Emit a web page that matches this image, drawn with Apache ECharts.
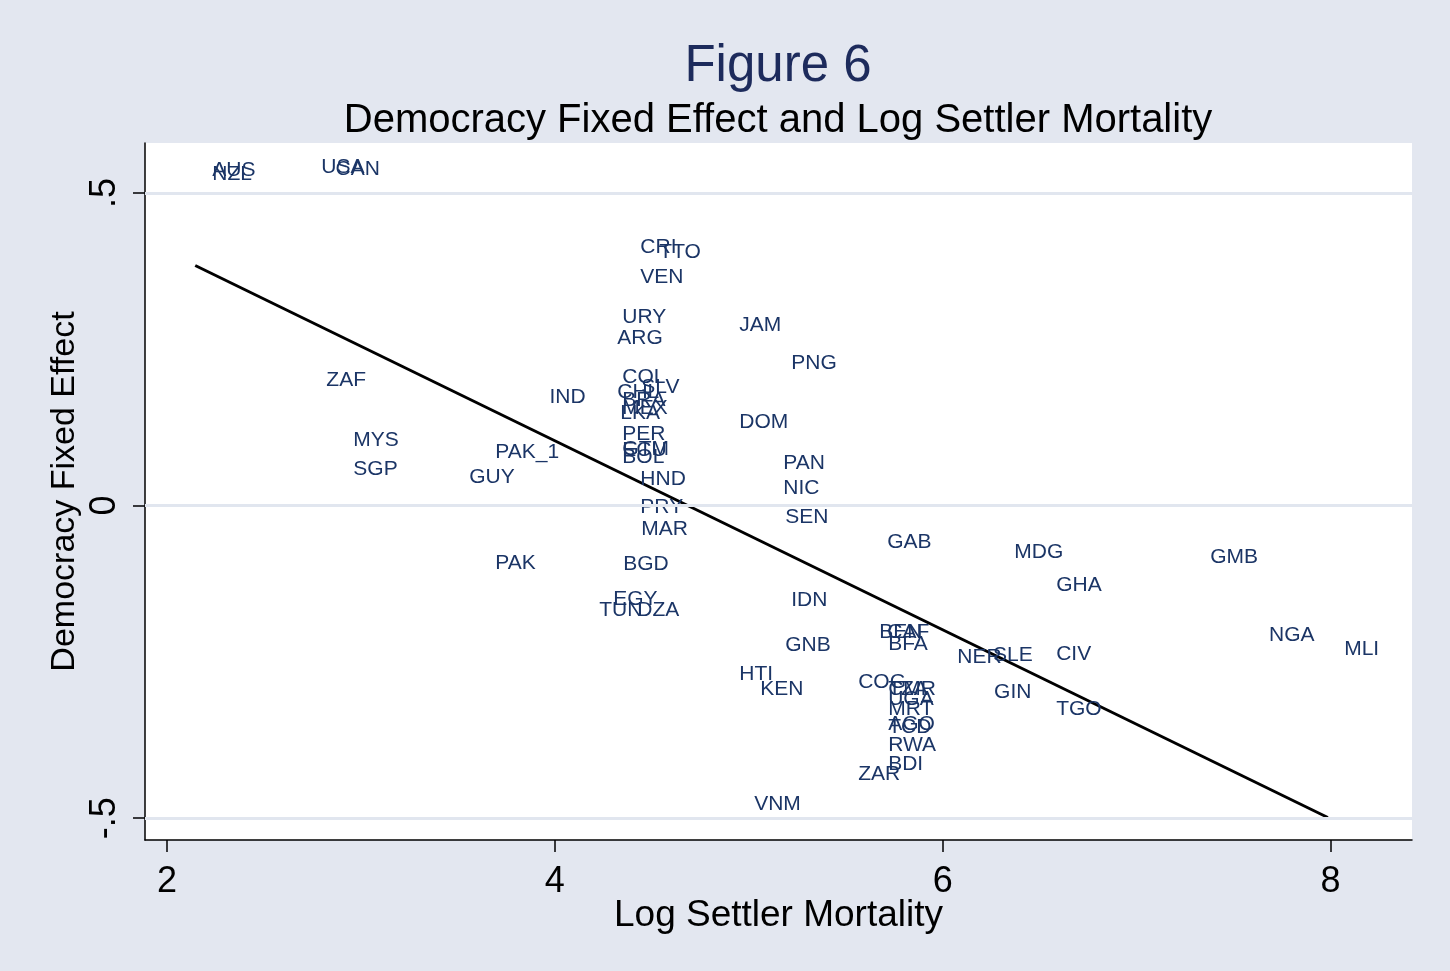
<!DOCTYPE html>
<html>
<head>
<meta charset="utf-8">
<script src="https://cdn.jsdelivr.net/npm/echarts@6/dist/echarts.min.js"></script>
<style>
html,body{margin:0;padding:0;background:#e3e7f0;}
#chart{width:1450px;height:971px;}
</style>
</head>
<body>
<div id="chart"></div>
<script>
// ---- data ----
const countries = ["AUS","NZL","USA","CAN","CRI","TTO","VEN","URY","ARG","JAM","PNG","ZAF","IND","COL","SLV","CHL","BRA","MEX","LKA","DOM","MYS","PER","GTM","ECU","BOL","PAK_1","SGP","GUY","HND","PAN","NIC","PRY","SEN","MAR","GAB","MDG","GMB","PAK","BGD","GHA","EGY","TUN","DZA","IDN","BEN","CAF","BFA","GNB","NER","SLE","CIV","NGA","MLI","HTI","KEN","COG","CMR","TZA","UGA","MRT","AGO","TCD","RWA","BDI","ZAR","GIN","TGO","VNM"];
const logMortality = [2.149,2.149,2.711,2.784,4.356,4.454,4.356,4.263,4.237,4.866,5.134,2.737,3.887,4.263,4.361,4.237,4.263,4.263,4.253,4.866,2.876,4.263,4.263,4.263,4.263,3.608,2.876,3.474,4.356,5.093,5.093,4.356,5.103,4.361,5.629,6.284,7.294,3.608,4.268,6.500,4.216,4.144,4.340,5.134,5.588,5.629,5.634,5.103,5.990,6.175,6.500,7.598,7.985,4.866,4.974,5.479,5.634,5.634,5.634,5.634,5.634,5.634,5.634,5.634,5.479,6.180,6.500,4.943];
const democracyFE = [0.536,0.530,0.542,0.538,0.413,0.406,0.365,0.302,0.267,0.288,0.227,0.200,0.174,0.206,0.190,0.182,0.168,0.155,0.147,0.133,0.104,0.114,0.090,0.088,0.078,0.085,0.058,0.045,0.042,0.067,0.027,-0.003,-0.019,-0.038,-0.058,-0.075,-0.082,-0.093,-0.094,-0.128,-0.150,-0.168,-0.168,-0.152,-0.202,-0.202,-0.222,-0.224,-0.242,-0.240,-0.238,-0.208,-0.229,-0.269,-0.294,-0.282,-0.294,-0.294,-0.310,-0.326,-0.349,-0.355,-0.384,-0.413,-0.430,-0.298,-0.325,-0.478];
const fitX = [2.146, 7.986];
const fitY = [0.384, -0.499];
const xTicks = [2, 4, 6, 8];
const yTicks = [-0.5, 0, 0.5];
const yTickLabels = {"-0.5": "-.5", "0": "0", "0.5": ".5"};

// ---- chart ----
const FONT = "'Liberation Sans', Arial, Helvetica, sans-serif";
const NAVY = "#1b3566";
const chart = echarts.init(document.getElementById('chart'), null, {renderer: 'canvas'});

const points = countries.map((c, i) => [logMortality[i], democracyFE[i], c]);
const fitLine = fitX.map((x, i) => [x, fitY[i]]);

const option = {
  backgroundColor: '#e3e7f0',
  animation: false,
  graphic: [
    {type: 'rect', left: 145, top: 143, shape: {width: 1267, height: 697}, style: {fill: '#ffffff'}, z: -10, silent: true},
    {type: 'text', x: 778, y: 67, style: {text: 'Figure 6', font: '51px ' + FONT, fill: '#1d2b5c', textAlign: 'center', textVerticalAlign: 'middle'}},
    {type: 'text', x: 778, y: 121, style: {text: 'Democracy Fixed Effect and Log Settler Mortality', font: '40px ' + FONT, fill: '#000000', textAlign: 'center', textVerticalAlign: 'middle'}}
  ],
  grid: {left: 145, right: 38, top: 143, bottom: 131, containLabel: false},
  xAxis: {
    type: 'value', min: 1.887, max: 8.42,
    name: 'Log Settler Mortality', nameLocation: 'middle', nameGap: 57, nameMoveOverlap: false,
    nameTextStyle: {fontSize: 37, color: '#000', fontFamily: FONT},
    axisLine: {show: true, onZero: false, lineStyle: {color: '#000', width: 1.5}},
    axisTick: {show: true, length: 12, customValues: xTicks, lineStyle: {color: '#000', width: 1.5}},
    axisLabel: {customValues: xTicks, fontSize: 36, color: '#000', fontFamily: FONT, margin: 24},
    splitLine: {show: false}
  },
  yAxis: {
    type: 'value', min: -0.535, max: 0.58,
    name: 'Democracy Fixed Effect', nameLocation: 'middle', nameGap: 63, nameRotate: 90, nameMoveOverlap: false,
    nameTextStyle: {fontSize: 34, color: '#000', fontFamily: FONT},
    axisLine: {show: true, onZero: false, lineStyle: {color: '#000', width: 1.5}},
    axisTick: {show: true, length: 12, customValues: yTicks, lineStyle: {color: '#000', width: 1.5}},
    axisLabel: {customValues: yTicks, rotate: 90, fontSize: 36, color: '#000', fontFamily: FONT, margin: 22,
      formatter: v => yTickLabels[String(v)] !== undefined ? yTickLabels[String(v)] : ''},
    splitLine: {show: false}
  },
  series: [
    {
      type: 'line', data: [], z: 1, silent: true,
      markLine: {
        silent: true, symbol: 'none', label: {show: false},
        lineStyle: {color: '#e1e6ef', width: 3, type: 'solid'},
        data: yTicks.map(v => ({yAxis: v}))
      }
    },
    {
      type: 'line', data: fitLine, symbol: 'none', z: 3,
      lineStyle: {color: '#000', width: 3}
    },
    {
      type: 'scatter', data: points, symbolSize: 1, z: 4,
      itemStyle: {color: 'rgba(0,0,0,0)'},
      label: {
        show: true, position: 'right', distance: 16,
        formatter: p => p.data[2],
        fontSize: 21, color: NAVY, fontFamily: FONT, opacity: 1
      }
    }
  ]
};
chart.setOption(option);
</script>
</body>
</html>
